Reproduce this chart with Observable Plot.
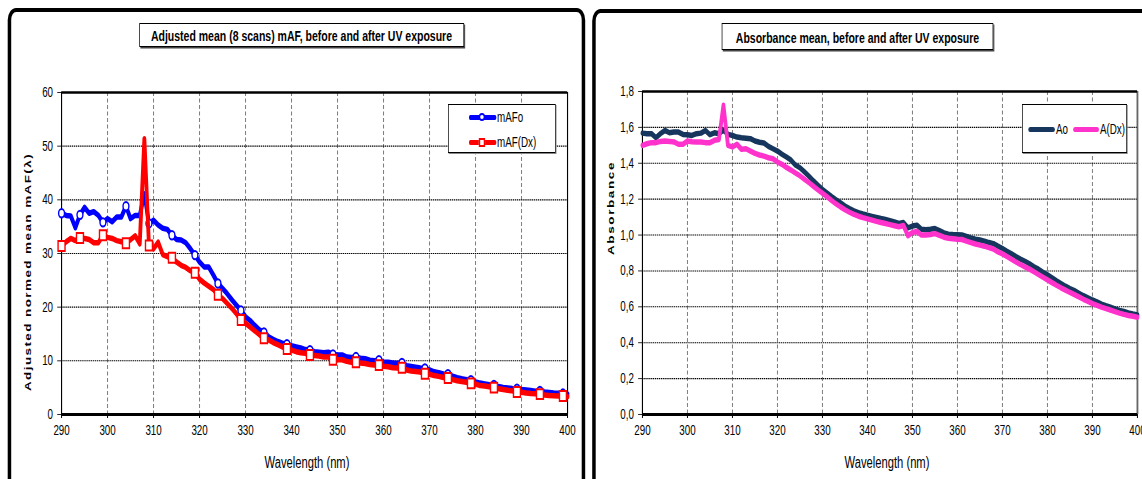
<!DOCTYPE html>
<html><head><meta charset="utf-8">
<script src="https://cdn.jsdelivr.net/npm/d3@7"></script>
<script src="https://cdn.jsdelivr.net/npm/@observablehq/plot@0.6"></script>
<style>
html,body{margin:0;padding:0;background:#fff;overflow:hidden;width:1142px;height:479px;}
#stage{position:absolute;left:0;top:0;width:1632px;height:479px;transform:scaleX(0.7);transform-origin:0 0;font-family:"Liberation Sans",Arial,sans-serif;color:#000;}
</style></head>
<body><div id="stage"></div>
<script>
// ---------------- data ----------------
const wavelengths = [290,291,292,293,294,295,296,297,298,299,300,301,302,303,304,305,306,307,308,309,310,311,312,313,314,315,316,317,318,319,320,321,322,323,324,325,326,327,328,329,330,331,332,333,334,335,336,337,338,339,340,341,342,343,344,345,346,347,348,349,350,351,352,353,354,355,356,357,358,359,360,361,362,363,364,365,366,367,368,369,370,371,372,373,374,375,376,377,378,379,380,381,382,383,384,385,386,387,388,389,390,391,392,393,394,395,396,397,398,399,400];
const markerWavelengths = [290,294,299,304,309,314,319,324,329,334,339,344,349,354,359,364,369,374,379,384,389,394,399];
const xTicks = [290,300,310,320,330,340,350,360,370,380,390,400];
const mafTicks = [0,10,20,30,40,50,60];
const absTicks = [0,0.2,0.4,0.6,0.8,1.0,1.2,1.4,1.6,1.8];

const mAFo = [
37.5,37.1,37.0,34.8,37.2,38.6,37.5,37.8,37.1,35.8,
36.5,35.9,36.8,36.8,38.8,36.5,37.1,37.1,41.1,35.6,
36.2,35.3,34.7,34.5,33.4,32.6,32.5,32.0,30.9,29.7,
28.4,27.5,27.5,26.0,24.4,23.5,22.5,21.4,20.4,19.4,
18.2,17.5,16.6,15.8,15.3,14.5,14.0,13.6,13.3,13.1,
12.8,12.6,12.4,12.1,12.0,11.7,11.6,11.5,11.6,11.2,
11.1,11.1,10.7,10.6,10.7,10.5,10.4,10.1,10.0,10.1,
9.8,9.75,9.6,9.5,9.6,9.1,8.95,8.8,8.65,8.6,
8.3,7.95,7.8,7.55,7.5,7.15,6.85,6.65,6.5,6.4,
6.05,5.85,5.7,5.55,5.5,5.2,5.05,4.95,4.85,4.8,
4.65,4.55,4.45,4.35,4.4,4.2,4.1,4.0,3.95,3.9,
3.8];
const mAFDx = [
31.4,32.2,32.8,32.4,32.9,32.8,32.6,32.0,32.0,33.4,
33.0,32.8,32.4,32.2,31.9,32.6,33.3,31.8,51.4,31.5,
30.9,32.1,29.8,29.4,29.2,28.4,27.8,27.4,26.8,26.4,
25.2,24.5,23.9,23.3,22.3,21.6,20.7,19.8,18.8,17.6,
17.0,16.3,15.6,14.9,14.2,13.9,13.4,13.0,12.6,12.2,
12.0,11.7,11.5,11.4,11.1,11.0,10.9,10.7,10.7,10.2,
10.2,10.2,9.9,9.75,9.75,9.6,9.5,9.3,9.2,9.2,
9.0,8.9,8.7,8.65,8.7,8.3,8.1,8.0,7.9,7.6,
7.5,7.25,7.1,6.9,6.8,6.5,6.3,6.15,6.0,5.8,
5.65,5.4,5.3,5.15,5.0,4.8,4.65,4.5,4.4,4.2,
4.15,4.0,3.9,3.85,3.8,3.65,3.55,3.5,3.45,3.45,
3.3];
const Ao = [
1.568,1.565,1.565,1.542,1.565,1.583,1.570,1.574,1.574,1.561,
1.559,1.555,1.565,1.568,1.583,1.559,1.570,1.565,1.585,1.561,
1.555,1.546,1.542,1.540,1.537,1.524,1.517,1.513,1.494,1.481,
1.468,1.450,1.435,1.418,1.390,1.375,1.352,1.328,1.302,1.278,
1.255,1.235,1.215,1.197,1.180,1.162,1.148,1.135,1.125,1.117,
1.110,1.104,1.098,1.092,1.087,1.080,1.073,1.065,1.070,1.040,
1.050,1.055,1.032,1.030,1.032,1.036,1.025,1.012,1.005,1.003,
1.002,1.000,0.992,0.984,0.977,0.972,0.966,0.958,0.952,0.938,
0.925,0.910,0.896,0.880,0.866,0.854,0.840,0.823,0.810,0.793,
0.778,0.762,0.745,0.730,0.715,0.702,0.690,0.676,0.662,0.650,
0.638,0.628,0.615,0.606,0.598,0.588,0.580,0.574,0.566,0.560,
0.555];
const ADx = [
1.500,1.509,1.515,1.515,1.522,1.524,1.522,1.519,1.506,1.506,
1.524,1.520,1.519,1.519,1.515,1.515,1.528,1.533,1.723,1.500,
1.491,1.506,1.478,1.481,1.468,1.455,1.446,1.440,1.431,1.425,
1.407,1.394,1.377,1.362,1.346,1.330,1.311,1.292,1.272,1.252,
1.233,1.214,1.193,1.174,1.157,1.141,1.127,1.115,1.105,1.097,
1.090,1.083,1.076,1.070,1.064,1.058,1.052,1.046,1.053,0.996,
1.015,1.020,1.000,1.000,1.003,1.008,0.998,0.988,0.982,0.980,
0.977,0.975,0.966,0.958,0.950,0.944,0.938,0.930,0.922,0.906,
0.895,0.880,0.865,0.850,0.836,0.823,0.810,0.795,0.780,0.765,
0.750,0.735,0.720,0.706,0.693,0.680,0.668,0.655,0.642,0.630,
0.618,0.608,0.598,0.590,0.582,0.573,0.565,0.558,0.552,0.547,
0.542];

// ---------------- layout helpers (real page px; stage squeezed horizontally) ----------------
const S = 0.7;
const stage = document.getElementById("stage");
function box(x, y, w, h, css) {
  const d = document.createElement("div");
  d.style.cssText = `position:absolute;left:${x/S}px;top:${y}px;width:${w/S}px;height:${h}px;box-sizing:border-box;` + (css || "");
  stage.appendChild(d); return d;
}
function text(t, x, y, css, mode) {
  const d = document.createElement("div");
  d.textContent = t;
  let tr = "translate(-50%,-50%)";
  if (mode === "left") tr = "translate(0,-50%)";
  if (mode === "rot") tr = "translate(-50%,-50%) rotate(-90deg)";
  d.style.cssText = `position:absolute;left:${x/S}px;top:${y}px;white-space:nowrap;line-height:1;transform:${tr};` + (css || "");
  stage.appendChild(d); return d;
}

// panels
box(8, 8, 577, 520, `border:4px solid #000;border-left-width:${4/S}px;border-right-width:${4/S}px;border-radius:12px;background:#fff;`);
box(592, 9, 600, 520, `border:4px solid #000;border-left-width:${4/S}px;border-right-width:${4/S}px;border-radius:12px;background:#fff;`);

const fmtComma = d => d.toFixed(1).replace(".", ",");
const series = (ys, name) => wavelengths.map((w, i) => ({w, v: ys[i], s: name}));
const markers = data => data.filter(d => markerWavelengths.includes(d.w));

function chart({data, colors, yDomain, yTicks, yFmt, left, width, mL, mR, mT, withMarkers}) {
  const marks = [
    Plot.ruleX(xTicks.slice(1, -1), {stroke: "#7a7a7a", strokeDasharray: "4,2.5", strokeWidth: 1.4}),
    Plot.ruleY(yTicks.slice(1, -1), {stroke: "#000", strokeDasharray: "2,1", strokeWidth: 1.1}),
    Plot.axisX(xTicks, {tickSize: 4, tickPadding: 7, fontSize: 14, label: null, strokeWidth: 1.4}),
    Plot.axisY(yTicks, {tickSize: 4/S, tickPadding: 4.5/S, fontSize: 14, label: null, tickFormat: yFmt}),
    Plot.ruleX([xTicks[0]], {stroke: "#000", strokeWidth: 1.6}),
    Plot.ruleX([xTicks[xTicks.length-1]], {stroke: withMarkers ? "#000" : "#666", strokeWidth: withMarkers ? 1.6 : 2.6}),
    Plot.ruleY([yDomain[1]], {stroke: "#000", strokeWidth: 2.6}),
    Plot.ruleY([yDomain[0]], {stroke: "#000", strokeWidth: 3})
  ];
  data.forEach((ser, k) => {
    marks.push(Plot.line(ser, {x: "w", y: "v", stroke: colors[k], strokeWidth: 5.5, strokeLinejoin: "round", strokeLinecap: "round"}));
    if (withMarkers) {
      marks.push(Plot.dot(markers(ser), {x: "w", y: "v", symbol: k === 0 ? "circle" : "square", r: k === 0 ? 4.2 : 5.6, stroke: colors[k], strokeWidth: 2, fill: "#fff"}));
    }
  });
  const svg = Plot.plot({
    width: width / S, height: 479,
    marginLeft: mL / S, marginRight: mR / S, marginTop: mT, marginBottom: 65,
    x: {domain: [290, 400]},
    y: {domain: yDomain},
    style: {background: "transparent", fontFamily: "'Liberation Sans', Arial, sans-serif", fontSize: "14px", overflow: "visible"},
    marks
  });
  svg.style.position = "absolute";
  svg.style.left = (left / S) + "px";
  svg.style.top = "0px";
  svg.style.maxWidth = "none";
  stage.appendChild(svg);
}

chart({data: [series(mAFo, "mAFo"), series(mAFDx, "mAF(Dx)")], colors: ["#0000ff", "#ff0000"],
  yDomain: [0, 60], yTicks: mafTicks, yFmt: d => String(d), left: 11, width: 570, mL: 50, mR: 14, mT: 92, withMarkers: true});
chart({data: [series(Ao, "Ao"), series(ADx, "A(Dx)")], colors: ["#17365d", "#ff33cc"],
  yDomain: [0, 1.8], yTicks: absTicks, yFmt: fmtComma, left: 597, width: 545, mL: 45, mR: 5, mT: 91, withMarkers: false});

// titles
const titleCss = "border:1.5px solid #000;background:#fff;box-shadow:1.5px 1.5px 0 #444;";
box(139, 23, 325, 24, titleCss);
text("Adjusted mean (8 scans) mAF, before and after UV exposure", 301.5, 35, "font-weight:bold;font-size:15px;");
box(722, 23, 271, 27, titleCss);
text("Absorbance mean, before and after UV exposure", 857.5, 36.5, "font-weight:bold;font-size:15px;");

// axis titles
text("Wavelength (nm)", 307, 463, "font-size:16px;");
text("Wavelength (nm)", 887, 463, "font-size:16px;");
text("Adjusted normed mean mAF(\u03bb)", 28, 272, "font-weight:bold;font-size:13.5px;letter-spacing:1.4px;", "rot");
text("Absorbance", 611, 208, "font-weight:bold;font-size:13.5px;letter-spacing:1.6px;", "rot");

// legends
const legCss = "border:1px solid #000;background:#fff;box-shadow:1px 1px 0 #888;";
box(448, 104, 108, 49, legCss);
box(469, 114.5, 27, 5, "background:#0000ff;border-radius:2px;");
box(479, 113, 6, 8, "border:2px solid #0000ff;border-radius:50%;background:#fff;");
text("mAFo", 497, 117, "font-size:14px;", "left");
box(469, 139.5, 27, 5, "background:#ff0000;border-radius:2px;");
box(479, 137.5, 6, 9, "border:2px solid #ff0000;background:#fff;");
text("mAF(Dx)", 497, 142, "font-size:14px;", "left");

box(1022, 104, 105, 49, legCss);
box(1028, 126.5, 27, 5, "background:#17365d;border-radius:3px;");
text("Ao", 1056, 129, "font-size:14px;", "left");
box(1073, 126.5, 26, 5, "background:#ff33cc;border-radius:3px;");
text("A(Dx)", 1100, 129, "font-size:14px;", "left");
</script>
</body></html>
